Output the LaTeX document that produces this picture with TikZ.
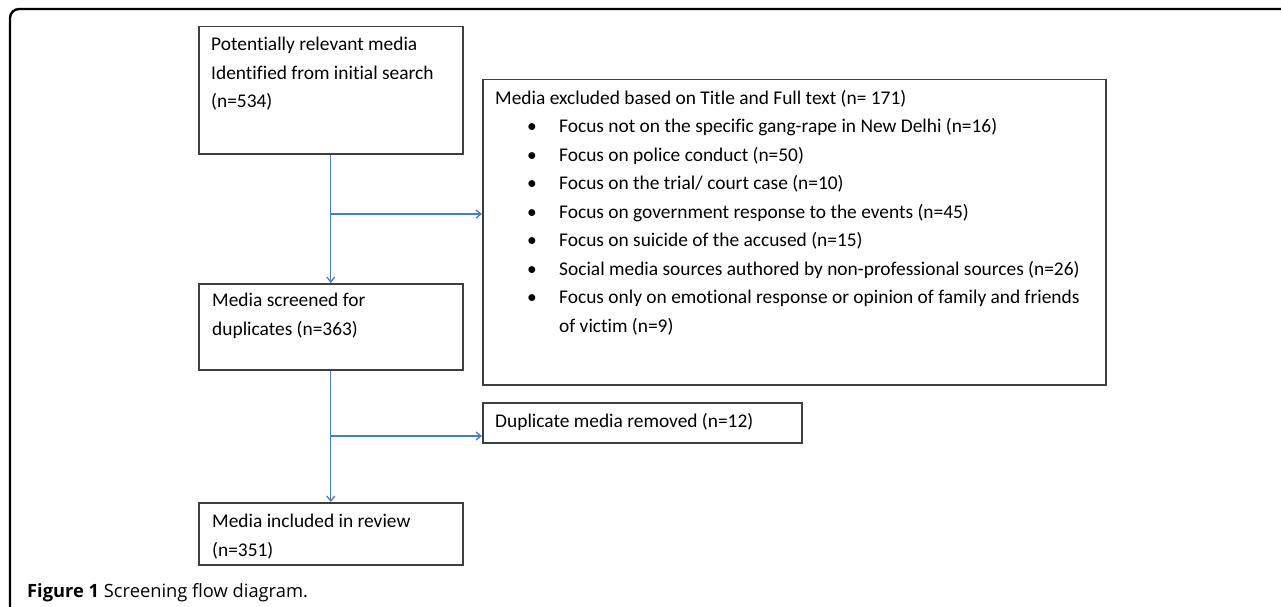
\documentclass[tikz,border=0pt]{standalone}
\usepackage{fontspec}
\setmainfont[Ligatures=NoCommon]{Carlito}
\newfontfamily\capfont{Open Sans}
\usetikzlibrary{arrows.meta}
\definecolor{linkblue}{HTML}{4A7EBB}
\definecolor{boxgray}{HTML}{3F3F3F}
\newcommand{\bul}{\hspace*{32pt}\makebox[32pt][l]{\textbullet}}

\begin{document}
\begin{tikzpicture}[x=1pt,y=-1pt,
        box/.style={draw=boxgray,line width=1.5pt,anchor=north west,inner sep=0pt},
        txt/.style={anchor=north west,inner sep=0pt,align=left,
            font=\fontsize{19.4}{28.5}\selectfont},
        link/.style={draw=linkblue,line width=1.3pt},
        arr/.style={link,-{Straight Barb[length=5pt,width=8pt]}}]
\useasboundingbox (0,0) rectangle (1281,607);
\draw[line width=2.4pt,rounded corners=9pt] (1281,9) -- (10,9) -- (10,607);

\node[box,minimum width=264pt,minimum height=127pt] (search) at (198,26) {};
\node[box,minimum width=264pt,minimum height=86pt] (screen) at (198,283) {};
\node[box,minimum width=264pt,minimum height=62pt] (review) at (198,502) {};
\node[box,minimum width=623pt,minimum height=305pt] (excl) at (482,79) {};
\node[box,minimum width=319pt,minimum height=40pt] (dupl) at (482,402) {};

\node[txt] (searchtxt) at ([shift={(13,11)}]search.north west)
    {Potentially relevant media\\Identified from initial search\\(n=534)};
\node[txt] (screentxt) at ([shift={(14,10)}]screen.north west)
    {Media screened for\\duplicates (n=363)};
\node[txt] (reviewtxt) at ([shift={(14,12)}]review.north west)
    {Media included in review\\(n=351)};
\node[txt] (dupltxt) at ([shift={(13,11)}]dupl.north west)
    {Duplicate media removed (n=12)};
\node[txt] (excltxt) at ([shift={(13,11)}]excl.north west)
    {Media excluded based on Title and Full text (n= 171)\\
    \bul Focus not on the specific gang-rape in New Delhi (n=16)\\
    \bul Focus on police conduct (n=50)\\
    \bul Focus on the trial/ court case (n=10)\\
    \bul Focus on government response to the events (n=45)\\
    \bul Focus on suicide of the accused (n=15)\\
    \bul Social media sources authored by non-professional sources (n=26)\\
    \bul Focus only on emotional response or opinion of family and friends\\
    \hspace*{64pt}of victim (n=9)};

\coordinate (split1) at (330,214);
\coordinate (split2) at (330,436);
\draw[arr] (search.south) -- (screen.north);
\draw[arr] (split1) -- (split1 -| excl.west);
\draw[arr] (screen.south) -- (review.north);
\draw[arr] (split2) -- (split2 -| dupl.west);

\node[anchor=base west,inner sep=0pt,font=\capfont\fontsize{18.3}{22}\selectfont]
    (caption) at (27,597) {\textbf{Figure 1} Screening flow diagram.};
\end{tikzpicture}
\end{document}
